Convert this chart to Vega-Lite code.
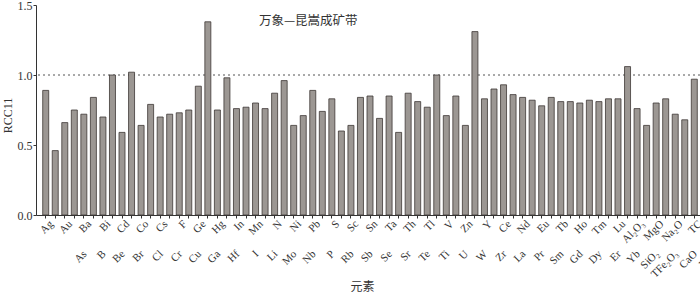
{
  "$schema": "https://vega.github.io/schema/vega-lite/v6.json",
  "width": 664,
  "height": 210,
  "autosize": "none",
  "padding": {"left": 36, "top": 5, "right": 0, "bottom": 77},
  "background": "white",
  "config": {"view": {"stroke": null}, "font": "Liberation Serif"},
  "data": {"values": [
    {"el": "Ag", "v": 0.89}, {"el": "As", "v": 0.46}, {"el": "Au", "v": 0.66}, {"el": "B", "v": 0.75},
    {"el": "Ba", "v": 0.72}, {"el": "Be", "v": 0.84}, {"el": "Bi", "v": 0.70}, {"el": "Br", "v": 1.00},
    {"el": "Cd", "v": 0.59}, {"el": "Cl", "v": 1.02}, {"el": "Co", "v": 0.64}, {"el": "Cr", "v": 0.79},
    {"el": "Cs", "v": 0.70}, {"el": "Cu", "v": 0.72}, {"el": "F", "v": 0.73}, {"el": "Ga", "v": 0.75},
    {"el": "Ge", "v": 0.92}, {"el": "Hf", "v": 1.38}, {"el": "Hg", "v": 0.75}, {"el": "I", "v": 0.98},
    {"el": "In", "v": 0.76}, {"el": "Li", "v": 0.77}, {"el": "Mn", "v": 0.80}, {"el": "Mo", "v": 0.76},
    {"el": "N", "v": 0.87}, {"el": "Nb", "v": 0.96}, {"el": "Ni", "v": 0.64}, {"el": "P", "v": 0.71},
    {"el": "Pb", "v": 0.89}, {"el": "Rb", "v": 0.74}, {"el": "S", "v": 0.83}, {"el": "Sb", "v": 0.60},
    {"el": "Sc", "v": 0.64}, {"el": "Se", "v": 0.84}, {"el": "Sn", "v": 0.85}, {"el": "Sr", "v": 0.69},
    {"el": "Ta", "v": 0.85}, {"el": "Te", "v": 0.59}, {"el": "Th", "v": 0.87}, {"el": "Ti", "v": 0.81},
    {"el": "Tl", "v": 0.77}, {"el": "U", "v": 1.00}, {"el": "V", "v": 0.71}, {"el": "W", "v": 0.85},
    {"el": "Zn", "v": 0.64}, {"el": "Zr", "v": 1.31}, {"el": "Y", "v": 0.83}, {"el": "La", "v": 0.90},
    {"el": "Ce", "v": 0.93}, {"el": "Pr", "v": 0.86}, {"el": "Nd", "v": 0.84}, {"el": "Sm", "v": 0.82},
    {"el": "Eu", "v": 0.78}, {"el": "Gd", "v": 0.84}, {"el": "Tb", "v": 0.81}, {"el": "Dy", "v": 0.81},
    {"el": "Ho", "v": 0.80}, {"el": "Er", "v": 0.82}, {"el": "Tm", "v": 0.81}, {"el": "Yb", "v": 0.83},
    {"el": "Lu", "v": 0.83}, {"el": "SiO₂", "v": 1.06}, {"el": "Al₂O₃", "v": 0.76}, {"el": "TFe₂O₃", "v": 0.64},
    {"el": "MgO", "v": 0.80}, {"el": "CaO", "v": 0.83}, {"el": "Na₂O", "v": 0.72}, {"el": "K₂O", "v": 0.68},
    {"el": "TC", "v": 0.97}
  ]},
  "resolve": {"axis": {"x": "independent"}},
  "layer": [
    {
      "data": {"values": [{}]},
      "mark": {"type": "rule", "stroke": "#555555", "strokeDash": [2, 3], "strokeWidth": 1},
      "encoding": {"y": {"datum": 1}}
    },
    {
      "mark": {"type": "bar", "fill": "#9c9793", "stroke": "#3d3735", "strokeWidth": 0.8},
      "encoding": {
        "x": {
          "field": "el", "type": "nominal", "sort": null,
          "scale": {"paddingInner": 0.371, "paddingOuter": 0.493, "align": 0.713},
          "axis": {
            "orient": "bottom",
            "title": "元素", "titleFont": "Noto Sans CJK SC", "titleFontSize": 12, "titleFontWeight": "normal",
            "titleColor": "#333333", "titleX": 326, "titleY": 71, "titleBaseline": "middle", "titleAlign": "center",
            "labelAngle": -45, "labelAlign": "right", "labelBaseline": "middle", "labelFontSize": 11,
            "labelColor": "#333333", "labelPadding": 4, "labelOffset": 6,
            "labelOverlap": false, "labelBound": false, "labelFlush": false,
            "labelExpr": "indexof(['Ag','Au','Ba','Bi','Cd','Co','Cs','F','Ge','Hg','In','Mn','N','Ni','Pb','S','Sc','Sn','Ta','Th','Tl','V','Zn','Y','Ce','Nd','Eu','Tb','Ho','Tm','Lu','Al₂O₃','MgO','Na₂O','TC'], datum.value) >= 0 ? datum.value : ''",
            "tickSize": 3, "tickColor": "#333333", "domainColor": "#333333", "grid": false
          }
        },
        "y": {
          "field": "v", "type": "quantitative",
          "scale": {"domain": [0, 1.5], "nice": false},
          "axis": {
            "title": "RCC11", "titleFontWeight": "normal", "titleFontSize": 12, "titleColor": "#333333",
            "titleX": -29, "titleY": 110, "titleBaseline": "middle", "titleAlign": "center",
            "values": [0, 0.5, 1, 1.5], "format": ".1f", "labelFontSize": 12, "labelColor": "#333333",
            "labelPadding": 1, "labelFlush": false, "tickSize": 3, "tickColor": "#333333",
            "domainColor": "#333333", "grid": false
          }
        }
      }
    },
    {
      "mark": {"type": "bar", "opacity": 0},
      "encoding": {
        "x": {
          "field": "el", "type": "nominal", "sort": null,
          "axis": {
            "orient": "bottom", "title": null, "domain": false, "ticks": false,
            "labelAngle": -45, "labelAlign": "right", "labelBaseline": "middle", "labelFontSize": 11,
            "labelColor": "#333333", "labelPadding": 37, "labelOffset": 30,
            "labelOverlap": false, "labelBound": false, "labelFlush": false,
            "labelExpr": "indexof(['Ag','Au','Ba','Bi','Cd','Co','Cs','F','Ge','Hg','In','Mn','N','Ni','Pb','S','Sc','Sn','Ta','Th','Tl','V','Zn','Y','Ce','Nd','Eu','Tb','Ho','Tm','Lu','Al₂O₃','MgO','Na₂O','TC'], datum.value) >= 0 ? '' : datum.value",
            "grid": false
          }
        },
        "y": {"field": "v", "type": "quantitative"}
      }
    },
    {
      "data": {"values": [{}]},
      "mark": {"type": "text", "font": "Noto Sans CJK SC", "fontSize": 12.5, "fill": "#333333", "dx": 5},
      "encoding": {
        "x": {"datum": "P", "axis": null},
        "y": {"datum": 1.384},
        "text": {"value": "万象—昆嵩成矿带"}
      }
    }
  ]
}
